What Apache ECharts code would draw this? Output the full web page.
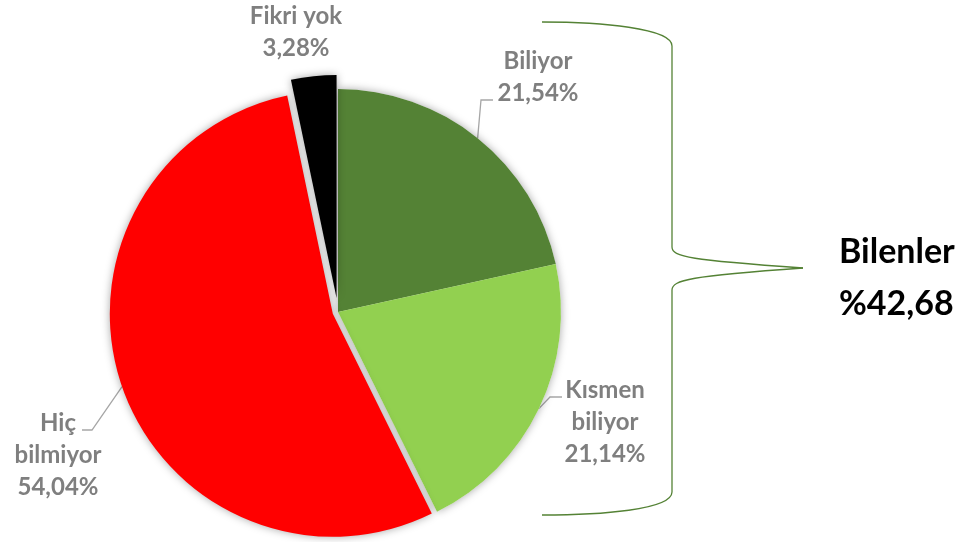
<!DOCTYPE html>
<html lang="tr">
<head>
<meta charset="utf-8">
<title>Bilenler</title>
<script src="https://cdn.jsdelivr.net/npm/echarts@6/dist/echarts.min.js"></script>
<style>
  html, body { margin: 0; padding: 0; background: #fff; }
  #chart { width: 973px; height: 542px; }
</style>
</head>
<body>
<div id="chart"></div>
<script>
  var categories = ['Biliyor', 'Kısmen biliyor', 'Hiç bilmiyor', 'Fikri yok'];
  var labelNames = ['Biliyor', 'Kısmen\nbiliyor', 'Hiç\nbilmiyor', 'Fikri yok'];
  var values = [21.54, 21.14, 54.04, 3.28];
  var colors = ['#548235', '#92D050', '#FF0000', '#000000'];
  var explode = [0, 0, 5.5, 14];

  // label centres and label line bends (annotation layout)
  var labelPos = [[538, 77], [605, 422], [58, 455], [296, 32]];
  var labelBends = [[[481, 100], [493, 100]], [[550, 397], [562, 397]], [[92, 430], [82, 430]], null];

  var pieCenter = [338, 312];
  var pieRadius = 223;

  function fmt(v) { return v.toFixed(2).replace('.', ','); }
  var knowTotal = '%' + fmt(values[0] + values[1]);

  var shadow = { shadowBlur: 8, shadowColor: 'rgba(0,0,0,0.35)' };

  // one pie layer: only the slices in `visible` are painted
  function layer(visible, offset, opts) {
    return {
      type: 'pie',
      center: pieCenter,
      radius: pieRadius,
      startAngle: 90,
      clockwise: true,
      silent: true,
      selectedMode: 'multiple',
      selectedOffset: offset,
      avoidLabelOverlap: false,
      emphasis: { disabled: true },
      label: { show: false },
      labelLine: { show: false },
      data: values.map(function (v, i) {
        var on = visible.indexOf(i) >= 0;
        var style = on
          ? Object.assign({ color: opts.fill || colors[i] }, opts.shadow ? shadow : {})
          : { color: 'rgba(0,0,0,0)' };
        return {
          value: v,
          name: categories[i],
          selected: on && offset > 0,
          itemStyle: style,
          select: { itemStyle: style }
        };
      })
    };
  }

  // labels only, on an un-exploded transparent pie
  var labelLayer = {
    type: 'pie',
    center: pieCenter,
    radius: pieRadius,
    startAngle: 90,
    clockwise: true,
    silent: true,
    avoidLabelOverlap: false,
    emphasis: { disabled: true },
    itemStyle: { color: 'rgba(0,0,0,0)' },
    label: {
      show: true,
      formatter: function (p) { return labelNames[p.dataIndex] + '\n' + fmt(p.value) + '%'; },
      fontFamily: 'Lato',
      fontWeight: 'bold',
      fontSize: 24,
      lineHeight: 32,
      color: '#7F7F7F',
      align: 'center'
    },
    labelLine: { show: true, lineStyle: { color: '#A6A6A6', width: 1.3 } },
    labelLayout: function (p) {
      var i = p.dataIndex;
      var res = { x: labelPos[i][0], y: labelPos[i][1], align: 'center', verticalAlign: 'middle' };
      if (labelBends[i] && p.labelLinePoints) {
        var p0 = p.labelLinePoints[0];
        var dx = p0[0] - pieCenter[0], dy = p0[1] - pieCenter[1];
        var len = Math.sqrt(dx * dx + dy * dy) || 1;
        var start = [p0[0] + dx / len * explode[i], p0[1] + dy / len * explode[i]];
        res.labelLinePoints = [start, labelBends[i][0], labelBends[i][1]];
      }
      return res;
    },
    data: values.map(function (v, i) {
      return { value: v, name: categories[i], labelLine: { show: labelBends[i] != null } };
    })
  };

  var chart = echarts.init(document.getElementById('chart'));
  chart.setOption({
    animation: false,
    backgroundColor: '#fff',
    series: [
      layer([0, 1], 0, { shadow: true, fill: '#fff' }),
      layer([0, 1], 0, { shadow: false }),
      layer([2], explode[2], { shadow: true }),
      layer([3], explode[3], { shadow: true }),
      labelLayer
    ],
    graphic: [
      { type: 'bezierCurve', shape: { x1: 542, y1: 22, cpx1: 600, cpy1: 22, cpx2: 672, cpy2: 28, x2: 672, y2: 46 },
        style: { stroke: '#548235', lineWidth: 1.3, fill: null } },
      { type: 'line', shape: { x1: 672, y1: 46, x2: 672, y2: 247 },
        style: { stroke: '#548235', lineWidth: 1.3 } },
      { type: 'bezierCurve', shape: { x1: 672, y1: 247, cpx1: 672, cpy1: 257, cpx2: 690, cpy2: 260, x2: 803, y2: 268 },
        style: { stroke: '#548235', lineWidth: 1.3, fill: null } },
      { type: 'bezierCurve', shape: { x1: 803, y1: 268, cpx1: 690, cpy1: 276, cpx2: 672, cpy2: 280, x2: 672, y2: 290 },
        style: { stroke: '#548235', lineWidth: 1.3, fill: null } },
      { type: 'line', shape: { x1: 672, y1: 290, x2: 672, y2: 492 },
        style: { stroke: '#548235', lineWidth: 1.3 } },
      { type: 'bezierCurve', shape: { x1: 672, y1: 492, cpx1: 672, cpy1: 510, cpx2: 600, cpy2: 515, x2: 542, y2: 515 },
        style: { stroke: '#548235', lineWidth: 1.3, fill: null } },
      { type: 'text', x: 839, y: 252,
        style: { text: 'Bilenler', font: 'bold 34px Lato', fill: '#000', verticalAlign: 'middle' } },
      { type: 'text', x: 839, y: 304,
        style: { text: knowTotal, font: 'bold 34px Lato', fill: '#000', verticalAlign: 'middle' } }
    ]
  });
</script>
</body>
</html>
